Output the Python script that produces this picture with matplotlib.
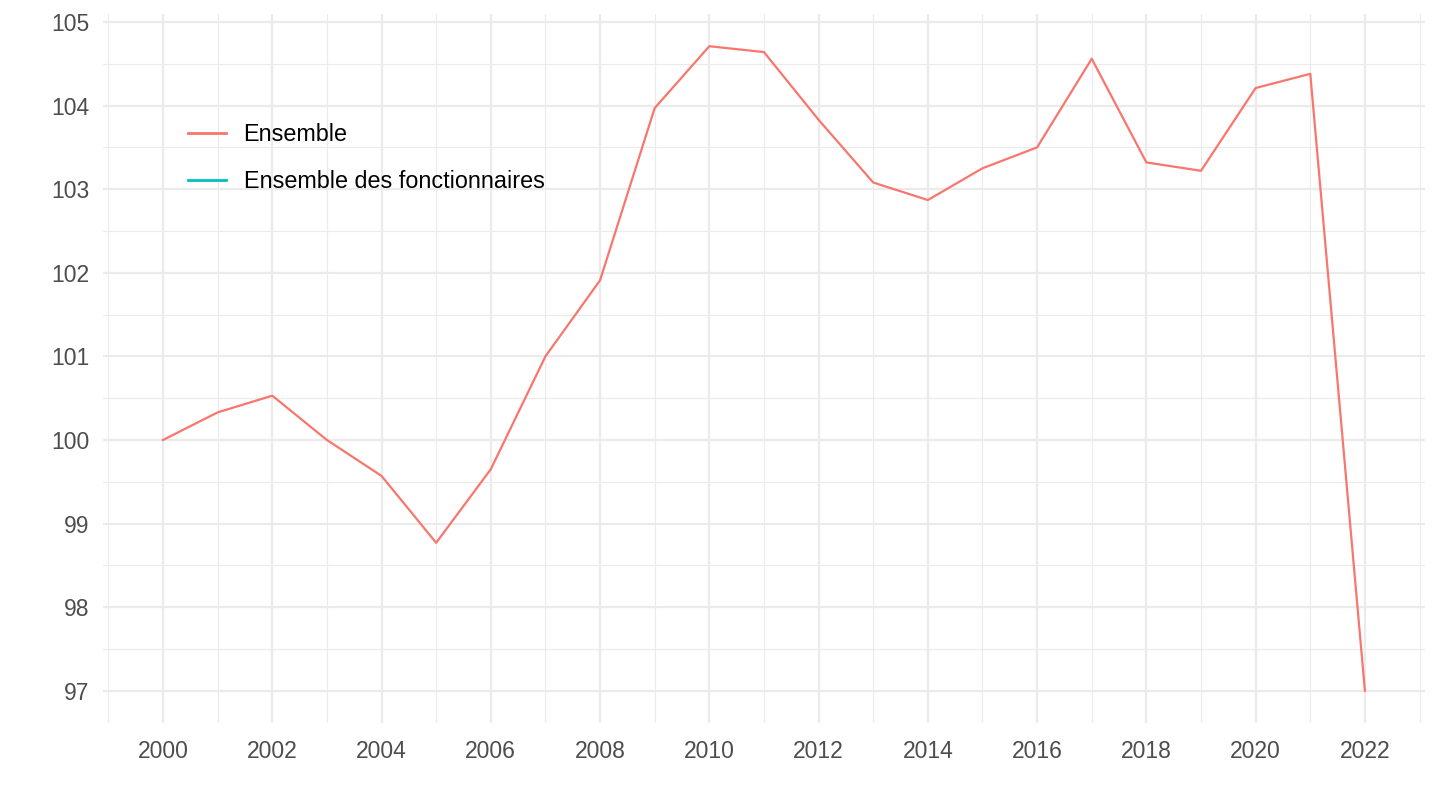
import numpy as np
import matplotlib
matplotlib.use("Agg")
import matplotlib.pyplot as plt
from matplotlib.ticker import MultipleLocator

years = list(range(2000, 2023))
ensemble = [100.00, 100.33, 100.53, 100.00, 99.57, 98.77, 99.65, 101.00, 101.91,
            103.97, 104.71, 104.64, 103.83, 103.08, 102.87, 103.25, 103.50, 104.56,
            103.32, 103.22, 104.21, 104.38, 97.00]
fonctionnaires = [np.nan] * len(years)

series_labels = ["Ensemble", "Ensemble des fonctionnaires"]
colors = ["#F8766D", "#00BFC4"]

plt.rcParams['font.family'] = ['Liberation Sans', 'DejaVu Sans']

fig = plt.figure(figsize=(14.4, 8.1), dpi=100)
ax = fig.add_axes([102.9 / 1440, 1 - 723 / 810, (1425 - 102.9) / 1440, (723 - 14) / 810])

ax.plot(years, ensemble, color=colors[0], lw=1.6, label=series_labels[0])
ax.plot(years, fonctionnaires, color=colors[1], lw=1.6, label=series_labels[1])

ymin, ymax = 97, max(ensemble)
ex = (ymax - ymin) * 0.05
ax.set_ylim(ymin - ex, ymax + ex)
ax.set_xlim(2000 - 1.1, 2022 + 1.1)

ax.xaxis.set_major_locator(MultipleLocator(2))
ax.xaxis.set_minor_locator(MultipleLocator(1))
ax.yaxis.set_major_locator(MultipleLocator(1))
ax.yaxis.set_minor_locator(MultipleLocator(0.5))

ax.grid(which='major', color='#EBEBEB', lw=1.6)
ax.grid(which='minor', color='#EBEBEB', lw=0.8)
ax.set_axisbelow(True)
for s in ax.spines.values():
    s.set_visible(False)
ax.tick_params(which='both', length=0)
ax.tick_params(axis='x', labelsize=16.5, labelcolor='#4D4D4D', pad=12)
ax.tick_params(axis='y', labelsize=16.5, labelcolor='#4D4D4D', pad=10)

leg = ax.legend(loc='upper left', bbox_to_anchor=(188 / 1440, 1 - 123 / 810),
                bbox_transform=fig.transFigure, frameon=False, fontsize=16.8,
                handlelength=1.62, handletextpad=0.76, labelspacing=1.05,
                borderpad=0, borderaxespad=0)
for t in leg.get_texts():
    t.set_color('black')
for h in leg.get_lines():
    h.set_linewidth(2.0)

fig.savefig("out.png", dpi=100)
